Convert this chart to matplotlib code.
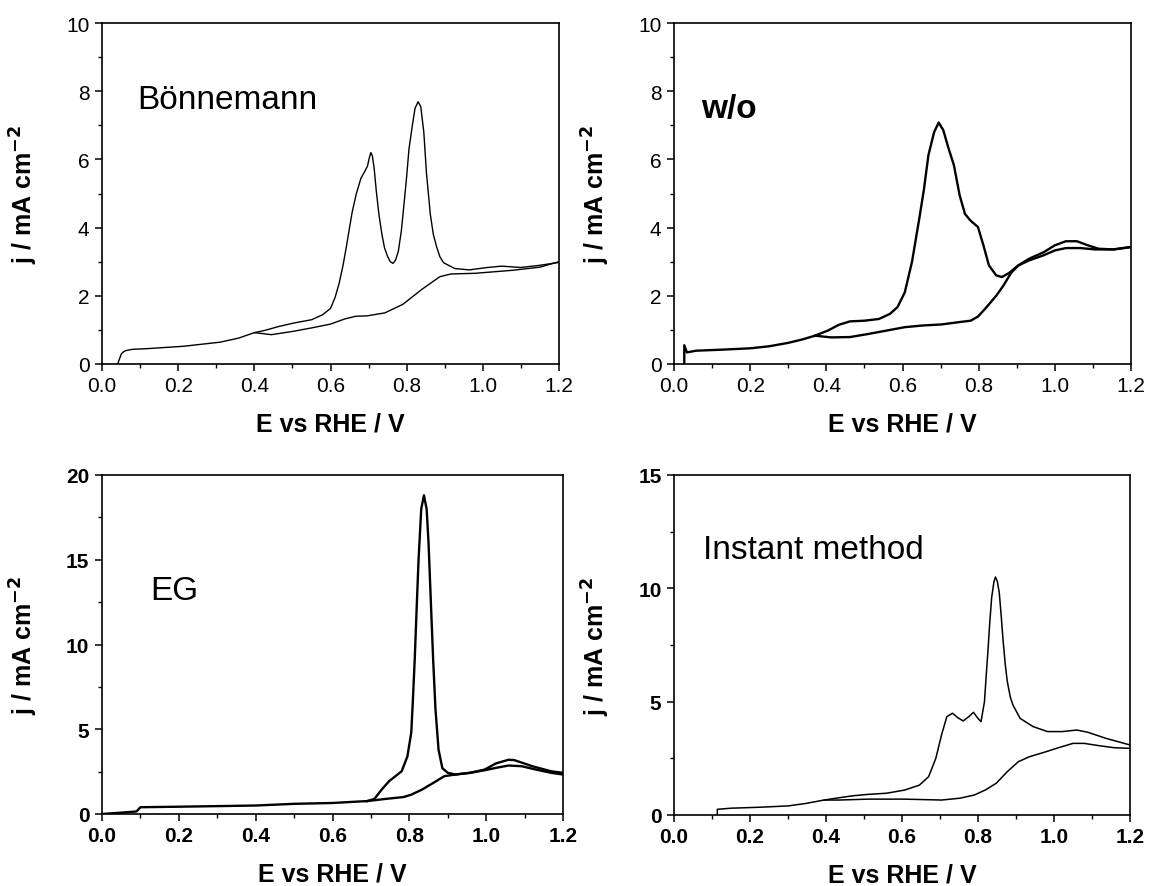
import numpy as np
import matplotlib
matplotlib.use("Agg")
import matplotlib.pyplot as plt
from matplotlib.ticker import AutoMinorLocator, MultipleLocator, FormatStrFormatter

plt.rcParams["font.family"] = ["Liberation Sans", "DejaVu Sans"]

# Bönnemann
bon_x_dn = [0.041, 0.046, 0.051, 0.058, 0.065, 0.08, 0.118, 0.214, 0.31, 0.359, 0.40, 0.445, 0.503,
            0.551, 0.60, 0.637, 0.666, 0.695, 0.743, 0.79, 0.84, 0.887, 0.916, 0.98, 1.08, 1.15, 1.2]
bon_j_dn = [0.0, 0.15, 0.30, 0.37, 0.40, 0.43, 0.45, 0.52, 0.64, 0.76, 0.92, 0.86, 0.96,
            1.06, 1.17, 1.32, 1.40, 1.41, 1.50, 1.75, 2.19, 2.56, 2.64, 2.66, 2.75, 2.84, 3.0]
bon_x_up = [0.40, 0.426, 0.464, 0.503, 0.551, 0.58, 0.60, 0.612, 0.623, 0.633, 0.642, 0.65, 0.657,
            0.668, 0.68, 0.69, 0.697, 0.702, 0.706, 0.71, 0.715, 0.72, 0.727, 0.735, 0.742, 0.75,
            0.757, 0.764, 0.771, 0.778, 0.786, 0.794, 0.80, 0.806, 0.815, 0.822, 0.83, 0.837,
            0.845, 0.852, 0.862, 0.87, 0.878, 0.887, 0.897, 0.926, 0.964, 1.012, 1.05, 1.099,
            1.147, 1.2]
bon_j_up = [0.92, 0.98, 1.10, 1.20, 1.30, 1.45, 1.63, 1.95, 2.38, 2.9, 3.46, 4.0, 4.46,
            5.0, 5.45, 5.65, 5.8, 6.05, 6.2, 6.1, 5.7, 5.1, 4.4, 3.8, 3.4, 3.15,
            3.0, 2.95, 3.05, 3.3, 3.9, 4.8, 5.5, 6.3, 7.0, 7.5, 7.69, 7.55,
            6.8, 5.6, 4.4, 3.8, 3.46, 3.15, 2.97, 2.8, 2.76, 2.83, 2.87, 2.83,
            2.89, 2.98]

# w/o
wo_x_dn = [0.027, 0.027, 0.034, 0.058, 0.125, 0.20, 0.25, 0.30, 0.337, 0.37, 0.413, 0.462, 0.51,
           0.558, 0.606, 0.654, 0.702, 0.75, 0.779, 0.798, 0.817, 0.846, 0.865, 0.885, 0.904,
           0.933, 0.971, 1.0, 1.029, 1.067, 1.106, 1.154, 1.2]
wo_j_dn = [0.0, 0.55, 0.34, 0.39, 0.42, 0.46, 0.52, 0.62, 0.72, 0.83, 0.78, 0.79, 0.88,
           0.98, 1.08, 1.13, 1.16, 1.23, 1.27, 1.39, 1.62, 2.0, 2.3, 2.67, 2.89,
           3.04, 3.19, 3.33, 3.40, 3.40, 3.36, 3.36, 3.43]
wo_x_up = [0.37, 0.404, 0.433, 0.462, 0.50, 0.538, 0.567, 0.587, 0.606, 0.625, 0.644, 0.656, 0.668,
           0.683, 0.695, 0.707, 0.721, 0.735, 0.75, 0.764, 0.779, 0.798, 0.8125, 0.827, 0.846,
           0.861, 0.88, 0.904, 0.933, 0.971, 1.0, 1.029, 1.058, 1.087, 1.115, 1.154, 1.2]
wo_j_up = [0.83, 0.98, 1.15, 1.25, 1.27, 1.32, 1.47, 1.67, 2.1, 3.0, 4.26, 5.1, 6.12,
           6.8, 7.08, 6.86, 6.32, 5.83, 4.95, 4.40, 4.20, 4.02, 3.48, 2.89, 2.6,
           2.55, 2.67, 2.89, 3.09, 3.28, 3.48, 3.60, 3.60, 3.48, 3.38, 3.36, 3.43]

# EG
eg_x_dn = [0.0, 0.05, 0.09, 0.10, 0.2, 0.4, 0.5, 0.6, 0.68, 0.69, 0.738, 0.785, 0.805, 0.833,
           0.862, 0.891, 0.92, 0.958, 0.996, 1.025, 1.058, 1.092, 1.13, 1.169, 1.2]
eg_j_dn = [0.0, 0.08, 0.15, 0.40, 0.43, 0.50, 0.60, 0.65, 0.75, 0.76, 0.89, 1.0, 1.14, 1.44,
           1.83, 2.23, 2.33, 2.43, 2.58, 2.72, 2.86, 2.82, 2.62, 2.43, 2.33]
eg_x_up = [0.69, 0.709, 0.728, 0.747, 0.766, 0.78, 0.795, 0.805, 0.809, 0.814, 0.819, 0.824,
           0.831, 0.838, 0.845, 0.85, 0.855, 0.862, 0.868, 0.876, 0.886, 0.90, 0.92, 0.958,
           0.996, 1.025, 1.058, 1.073, 1.12, 1.169, 1.2]
eg_j_up = [0.76, 0.89, 1.44, 1.93, 2.27, 2.52, 3.4, 4.8, 6.6, 9.1, 12.1, 15.0,
           18.0, 18.8, 18.0, 16.0, 13.1, 9.1, 6.2, 3.8, 2.7, 2.43, 2.33, 2.43,
           2.62, 2.98, 3.2, 3.18, 2.82, 2.52, 2.43]

# Instant method
im_x_dn = [0.114, 0.114, 0.15, 0.222, 0.30, 0.347, 0.395, 0.434, 0.511, 0.607, 0.704, 0.752,
           0.79, 0.819, 0.848, 0.877, 0.906, 0.935, 0.973, 1.012, 1.05, 1.079, 1.118, 1.157, 1.2]
im_j_dn = [0.0, 0.25, 0.30, 0.34, 0.40, 0.51, 0.66, 0.66, 0.70, 0.70, 0.66, 0.74,
           0.88, 1.10, 1.40, 1.91, 2.35, 2.57, 2.76, 2.97, 3.16, 3.16, 3.06, 2.97, 2.94]
im_x_up = [0.395, 0.434, 0.472, 0.511, 0.559, 0.607, 0.646, 0.67, 0.689, 0.704, 0.718, 0.733,
           0.747, 0.761, 0.776, 0.788, 0.80, 0.808, 0.817, 0.821, 0.826, 0.831, 0.836, 0.842,
           0.846, 0.851, 0.856, 0.861, 0.866, 0.872, 0.877, 0.885, 0.892, 0.911, 0.945, 0.983,
           1.022, 1.06, 1.089, 1.137, 1.2]
im_j_up = [0.66, 0.76, 0.85, 0.91, 0.96, 1.10, 1.32, 1.69, 2.5, 3.53, 4.34, 4.49,
           4.29, 4.15, 4.34, 4.53, 4.26, 4.12, 5.0, 6.0, 7.2, 8.5, 9.6, 10.3,
           10.5, 10.3, 9.8, 8.8, 7.7, 6.6, 5.9, 5.2, 4.85, 4.26, 3.9, 3.68,
           3.68, 3.75, 3.65, 3.38, 3.09]

panels = [
    # axes box in pixels, curves, ymax, ystep, label, label pos, label style, line width, bold ticks
    ([102, 24, 559, 365], (bon_x_up, bon_j_up, bon_x_dn, bon_j_dn), 10, 2,
     "Bönnemann", (0.093, 7.77), dict(fontsize=24), 1.0, False),
    ([674, 24, 1131, 365], (wo_x_up, wo_j_up, wo_x_dn, wo_j_dn), 10, 2,
     "w/o", (0.072, 7.49), dict(fontsize=24, fontweight="bold"), 1.7, False),
    ([102, 476, 563, 815], (eg_x_up, eg_j_up, eg_x_dn, eg_j_dn), 20, 5,
     "EG", (0.125, 13.2), dict(fontsize=24), 1.7, True),
    ([674, 476, 1130, 816], (im_x_up, im_j_up, im_x_dn, im_j_dn), 15, 5,
     "Instant method", (0.076, 11.7), dict(fontsize=24), 1.1, True),
]

W, H = 1150, 887
fig = plt.figure(figsize=(W / 100, H / 100), dpi=100)

for rect, (xu, ju, xd, jd), ymax, ystep, label, lpos, lstyle, lw, bold in panels:
    x0, y0, x1, y1 = rect
    ax = fig.add_axes([x0 / W, 1 - y1 / H, (x1 - x0) / W, (y1 - y0) / H])
    ax.plot(xd, jd, color="black", lw=lw)
    ax.plot(xu, ju, color="black", lw=lw)
    ax.set_xlim(0, 1.2)
    ax.set_ylim(0, ymax)
    ax.xaxis.set_major_locator(MultipleLocator(0.2))
    ax.xaxis.set_major_formatter(FormatStrFormatter("%.1f"))
    ax.yaxis.set_major_locator(MultipleLocator(ystep))
    ax.xaxis.set_minor_locator(AutoMinorLocator(2))
    ax.yaxis.set_minor_locator(AutoMinorLocator(2))
    ax.tick_params(which="major", direction="out", length=5, width=1.1, pad=4, labelsize=15)
    ax.tick_params(which="minor", direction="out", length=3, width=1.0)
    for t in ax.get_xticklabels() + ax.get_yticklabels():
        t.set_fontweight("bold" if bold else "normal")
    for s in ax.spines.values():
        s.set_linewidth(1.2)
    ax.set_xlabel("E vs RHE / V", fontsize=18, fontweight="bold")
    ax.set_ylabel("j / mA cm$^{\\mathbf{-2}}$", fontsize=18, fontweight="bold")
    ax.yaxis.set_label_coords(-62 / (x1 - x0), 0.5)
    ax.xaxis.set_label_coords(0.5, -48 / (y1 - y0))
    ax.text(lpos[0], lpos[1], label, ha="left", va="center", **lstyle)

fig.savefig("out.png", dpi=100)
